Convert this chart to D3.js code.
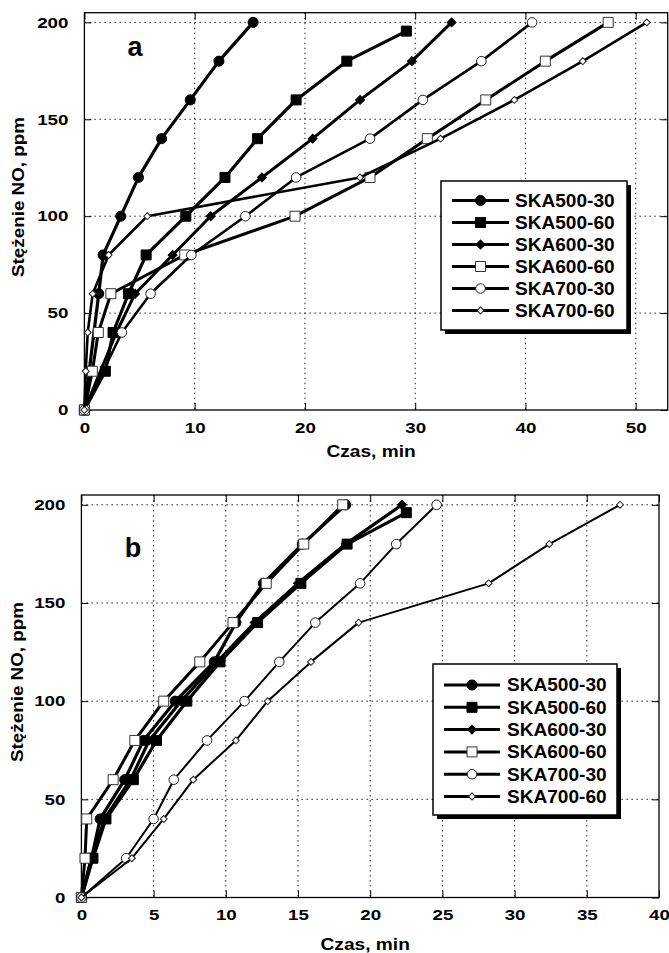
<!DOCTYPE html>
<html>
<head>
<meta charset="utf-8">
<script src="https://cdn.jsdelivr.net/npm/d3@7"></script>
<style>
  html, body { margin: 0; padding: 0; background: #fff; }
  svg { display: block; }
  text { font-family: "Liberation Sans", Arial, sans-serif; font-weight: bold; fill: #000; }
</style>
</head>
<body>
<svg id="chart" width="669" height="953"></svg>
<script>
// ---------- DATA ----------
const seriesNames = ["SKA500-30", "SKA500-60", "SKA600-30", "SKA600-60", "SKA700-30", "SKA700-60"];

// Panel a  (time in min, concentration in ppm)
const timeA_500_30 = [0, 1.3, 1.7, 3.3, 4.9, 7.0, 9.6, 12.2, 15.3];
const concA_500_30 = [0, 60, 80, 100, 120, 140, 160, 180, 200];
const timeA_500_60 = [0, 1.9, 2.6, 4.0, 5.6, 9.2, 12.75, 15.7, 19.2, 23.8, 29.2];
const concA_500_60 = [0, 20, 40, 60, 80, 100, 120, 140, 160, 180, 195.5];
const timeA_600_30 = [0, 2.9, 4.6, 8.0, 11.45, 16.1, 20.7, 25.0, 29.7, 33.3];
const concA_600_30 = [0, 40, 60, 80, 100, 120, 140, 160, 180, 200];
const timeA_600_60 = [0, 0.72, 1.26, 2.4, 9.1, 19.1, 25.9, 31.1, 36.4, 41.8, 47.5];
const concA_600_60 = [0, 20, 40, 60, 80, 100, 120, 140, 160, 180, 200];
const timeA_700_30 = [0, 3.4, 6.0, 9.7, 14.6, 19.2, 25.9, 30.7, 36.0, 40.6];
const concA_700_30 = [0, 40, 60, 80, 100, 120, 140, 160, 180, 200];
const timeA_700_60 = [0, 0.12, 0.3, 0.75, 2.2, 5.7, 25.0, 32.3, 39.0, 45.2, 51.0];
const concA_700_60 = [0, 20, 40, 60, 80, 100, 120, 140, 160, 180, 200];

// Panel b
const timeB_500_30 = [0, 0.7, 1.3, 3.0, 4.3, 6.5, 9.2, 10.7, 12.6, 15.3, 18.3];
const concB_500_30 = [0, 20, 40, 60, 80, 100, 120, 140, 160, 180, 200];
const timeB_500_60 = [0, 0.8, 1.7, 3.6, 5.2, 7.3, 9.6, 12.2, 15.2, 18.4, 22.5];
const concB_500_60 = [0, 20, 40, 60, 80, 100, 120, 140, 160, 180, 196];
const timeB_600_30 = [0, 0.7, 1.6, 3.4, 4.7, 6.9, 9.4, 12.0, 15.0, 18.3, 22.2];
const concB_600_30 = [0, 20, 40, 60, 80, 100, 120, 140, 160, 180, 200];
const timeB_600_60 = [0, 0.25, 0.37, 2.2, 3.7, 5.7, 8.2, 10.5, 12.8, 15.4, 18.1];
const concB_600_60 = [0, 20, 40, 60, 80, 100, 120, 140, 160, 180, 200];
const timeB_700_30 = [0, 3.1, 5.0, 6.4, 8.7, 11.3, 13.7, 16.2, 19.3, 21.8, 24.6];
const concB_700_30 = [0, 20, 40, 60, 80, 100, 120, 140, 160, 180, 200];
const timeB_700_60 = [0, 3.5, 5.7, 7.75, 10.7, 12.9, 15.9, 19.2, 28.2, 32.4, 37.3];
const concB_700_60 = [0, 20, 40, 60, 80, 100, 120, 140, 160, 180, 200];

const yTicks = [0, 50, 100, 150, 200];
const xTicksA = [0, 10, 20, 30, 40, 50];
const xTicksB = [0, 5, 10, 15, 20, 25, 30, 35, 40];
const xLabel = "Czas, min";
const yLabel = "Stężenie NO, ppm";

// ---------- STYLE ----------
const markerStyles = [
  { shape: "circle",  size: 80,  fill: "#000", stroke: "#000" },
  { shape: "square",  size: 100, fill: "#000", stroke: "#000" },
  { shape: "diamond", size: 40,  fill: "#000", stroke: "#000" },
  { shape: "square",  size: 100, fill: "#fff", stroke: "#333" },
  { shape: "circle",  size: 72,  fill: "#fff", stroke: "#222" },
  { shape: "diamond", size: 24,  fill: "#fff", stroke: "#222" }
];

function symbolPath(st) {
  const t = st.shape === "circle" ? d3.symbolCircle : d3.symbolSquare;
  return d3.symbol().type(t).size(st.size)();
}

const svg = d3.select("#chart");

function drawPanel(cfg) {
  const x = d3.scaleLinear().domain(cfg.xDomain).range([cfg.left, cfg.right]);
  const y = d3.scaleLinear().domain([0, 205]).range([cfg.bottom, cfg.top]);
  const g = svg.append("g");

  // grid
  g.append("g").selectAll("line").data(cfg.xTicks.filter(d => d > 0 && d < cfg.xDomain[1]))
    .join("line")
    .attr("x1", d => x(d)).attr("x2", d => x(d))
    .attr("y1", cfg.top).attr("y2", cfg.bottom)
    .attr("stroke", "#222").attr("stroke-width", 1).attr("stroke-dasharray", "1.5,3.5");
  g.append("g").selectAll("line").data(yTicks.filter(d => d > 0))
    .join("line")
    .attr("x1", cfg.left).attr("x2", cfg.right)
    .attr("y1", d => y(d)).attr("y2", d => y(d))
    .attr("stroke", "#222").attr("stroke-width", 1).attr("stroke-dasharray", "1.5,3.5");

  // axes (inward ticks)
  const sx = 1.25;
  const ax = g.append("g").attr("transform", `translate(0,${cfg.bottom})`)
    .call(d3.axisBottom(x).tickValues(cfg.xTicks).tickSize(-7).tickPadding(12).tickSizeOuter(0));
  const ay = g.append("g").attr("transform", `translate(${cfg.left},0)`)
    .call(d3.axisLeft(y).tickValues(yTicks).tickSize(-7).tickPadding(16).tickSizeOuter(0));
  const at = g.append("g").attr("transform", `translate(0,${cfg.top})`)
    .call(d3.axisTop(x).tickValues(cfg.xTicks).tickSize(-7).tickFormat("").tickSizeOuter(0));
  const ar = g.append("g").attr("transform", `translate(${cfg.right},0)`)
    .call(d3.axisRight(y).tickValues(yTicks).tickSize(-7).tickFormat("").tickSizeOuter(0));
  [ax, ay, at, ar].forEach(a => {
    a.select(".domain").remove();
    a.selectAll(".tick line").attr("stroke", "#000").attr("stroke-width", 1);
    a.selectAll("text").attr("font-size", 15).attr("font-family", "Liberation Sans").attr("font-weight", "bold");
  });
  ax.selectAll("text").attr("transform", `scale(${sx},1)`);
  ay.selectAll("text").attr("x", -16 / sx).attr("transform", `scale(${sx},1)`);

  // frame
  g.append("rect").attr("x", cfg.left).attr("y", cfg.top)
    .attr("width", cfg.right - cfg.left).attr("height", cfg.bottom - cfg.top)
    .attr("fill", "none").attr("stroke", "#000").attr("stroke-width", 1.3);

  // series
  const line = d3.line().x(d => x(d[0])).y(d => y(d[1]));
  cfg.series.forEach((s, i) => {
    const pts = s.t.map((t, k) => [t, s.c[k]]);
    const st = markerStyles[i];
    g.append("path").datum(pts).attr("d", line)
      .attr("fill", "none").attr("stroke", "#000")
      .attr("stroke-width", cfg.lineWidths[i]).attr("stroke-linejoin", "round");
    g.append("g").selectAll("path").data(pts).join("path")
      .attr("d", symbolPath(st))
      .attr("transform", d => `translate(${x(d[0])},${y(d[1])})` + (st.shape === "diamond" ? " rotate(45)" : ""))
      .attr("fill", st.fill).attr("stroke", st.stroke).attr("stroke-width", 1);
  });

  // panel letter
  g.append("text").attr("x", cfg.letterPos[0]).attr("y", cfg.letterPos[1])
    .attr("font-size", 27).attr("text-anchor", "middle").text(cfg.letter);

  // axis titles
  g.append("text")
    .attr("transform", `translate(${(cfg.left + cfg.right) / 2 + cfg.xTitleDx},${cfg.xTitleY}) scale(1.16,1)`)
    .attr("font-size", 16.5).attr("text-anchor", "middle").text(xLabel);
  g.append("text").attr("transform", `translate(${cfg.yTitleX},${cfg.yTitleY}) rotate(-90) scale(1.14,1)`)
    .attr("font-size", 16.5).attr("text-anchor", "middle").text(yLabel);

  // legend
  const L = cfg.legend;
  g.append("rect").attr("x", L.x + 4).attr("y", L.y + 4).attr("width", L.w).attr("height", L.h).attr("fill", "#000");
  g.append("rect").attr("x", L.x).attr("y", L.y).attr("width", L.w).attr("height", L.h)
    .attr("fill", "#fff").attr("stroke", "#000").attr("stroke-width", 1.5);
  seriesNames.forEach((name, i) => {
    const yy = L.y + L.firstRow + i * L.rowStep;
    const st = markerStyles[i];
    g.append("line").attr("x1", L.x + L.lineX0).attr("x2", L.x + L.lineX1)
      .attr("y1", yy).attr("y2", yy).attr("stroke", "#000").attr("stroke-width", 3);
    g.append("path").attr("d", symbolPath(st))
      .attr("transform", `translate(${L.x + (L.lineX0 + L.lineX1) / 2},${yy})` + (st.shape === "diamond" ? " rotate(45)" : ""))
      .attr("fill", st.fill).attr("stroke", st.stroke).attr("stroke-width", 1);
    g.append("text").attr("transform", `translate(${L.x + L.textX},${yy}) scale(1.06,1)`)
      .attr("dy", "0.36em").attr("font-size", 18).text(name);
  });
}

drawPanel({
  left: 84.4, right: 667.7, top: 12.7, bottom: 410,
  xDomain: [0, 52.9], xTicks: xTicksA,
  series: [
    { t: timeA_500_30, c: concA_500_30 },
    { t: timeA_500_60, c: concA_500_60 },
    { t: timeA_600_30, c: concA_600_30 },
    { t: timeA_600_60, c: concA_600_60 },
    { t: timeA_700_30, c: concA_700_30 },
    { t: timeA_700_60, c: concA_700_60 }
  ],
  lineWidths: [3.2, 3.2, 3, 3, 2.6, 2.6],
  letter: "a", letterPos: [135, 56],
  xTitleDx: -5, xTitleY: 457,
  yTitleX: 24, yTitleY: 197,
  legend: { x: 441, y: 181, w: 186, h: 149, firstRow: 19.5, rowStep: 22, lineX0: 11, lineX1: 68, textX: 74 }
});

drawPanel({
  left: 81.4, right: 659, top: 495, bottom: 897.5,
  xDomain: [0, 40], xTicks: xTicksB,
  series: [
    { t: timeB_500_30, c: concB_500_30 },
    { t: timeB_500_60, c: concB_500_60 },
    { t: timeB_600_30, c: concB_600_30 },
    { t: timeB_600_60, c: concB_600_60 },
    { t: timeB_700_30, c: concB_700_30 },
    { t: timeB_700_60, c: concB_700_60 }
  ],
  lineWidths: [3.2, 3.2, 3.2, 3, 2, 2],
  letter: "b", letterPos: [133, 557],
  xTitleDx: -5, xTitleY: 950,
  yTitleX: 23, yTitleY: 682,
  legend: { x: 433, y: 664, w: 184, h: 151, firstRow: 21, rowStep: 22.3, lineX0: 11, lineX1: 67, textX: 74 }
});
</script>
</body>
</html>
